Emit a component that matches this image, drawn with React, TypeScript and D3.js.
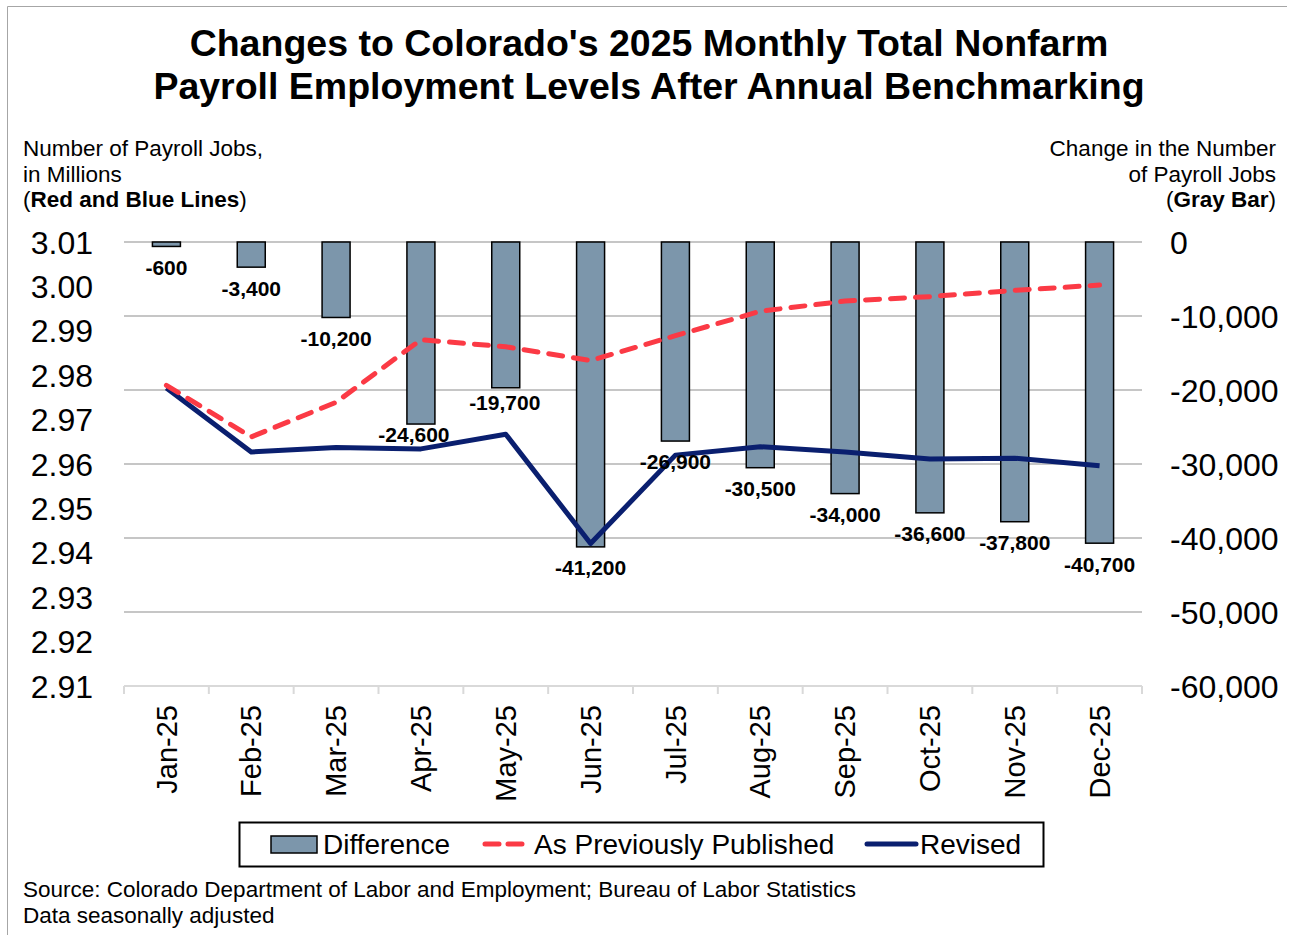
import * as d3 from "d3";

// monthly categories
const months = [
  "Jan-25", "Feb-25", "Mar-25", "Apr-25", "May-25", "Jun-25",
  "Jul-25", "Aug-25", "Sep-25", "Oct-25", "Nov-25", "Dec-25",
];

// change in number of payroll jobs (gray bars, right axis)
const difference = [
  -600, -3400, -10200, -24600, -19700, -41200,
  -26900, -30500, -34000, -36600, -37800, -40700,
];

// millions of jobs (left axis)
const previouslyPublished = [
  2.9777, 2.9661, 2.9739, 2.988, 2.9864, 2.9833,
  2.9889, 2.9944, 2.9967, 2.9977, 2.9991, 3.0003,
];
const revised = [
  2.9771, 2.9627, 2.9637, 2.9634, 2.9667, 2.9421,
  2.962, 2.9639, 2.9627, 2.9611, 2.9613, 2.9596,
];

const leftTicks = [2.91, 2.92, 2.93, 2.94, 2.95, 2.96, 2.97, 2.98, 2.99, 3.0, 3.01];
const rightTicks = [0, -10000, -20000, -30000, -40000, -50000, -60000];

const FONT = "'Liberation Sans', Arial, Helvetica, sans-serif";
const BAR_FILL = "#7c96ab";
const RED = "#fb3a45";
const NAVY = "#0a1f6f";

// hand placed data labels in the original
const labelNudge: Record<string, [number, number]> = {
  "Apr-25": [-7, -10],
  "May-25": [-1, -6],
};

// plain hyphen instead of d3's unicode minus
const fmt = (v: number) => d3.format(",")(v).replace("\u2212", "-");

export default function App() {
  const width = 1291;
  const height = 935;
  const plot = { left: 124, right: 1142, top: 242, bottom: 686 };

  const x = d3
    .scaleBand<string>()
    .domain(months)
    .range([plot.left, plot.right])
    .paddingInner(0.67)
    .paddingOuter(0.335);

  const yLeft = d3.scaleLinear().domain([2.91, 3.01]).range([plot.bottom, plot.top]);
  const yRight = d3.scaleLinear().domain([-60000, 0]).range([plot.bottom, plot.top]);

  const step = x.step();
  const cx = (m: string) => (x(m) ?? 0) + x.bandwidth() / 2;

  const line = d3
    .line<number>()
    .x((_, i) => cx(months[i]))
    .y((d) => yLeft(d));

  return (
    <svg
      width={width}
      height={height}
      style={{ position: "absolute", left: 0, top: 0, background: "#fff" }}
      fontFamily={FONT}
    >
      {/* cropped frame: only top and left edges show */}
      <path d="M7.5,935 V6.5 H1287" fill="none" stroke="#a6a6a6" />

      {/* title */}
      <g fontWeight="bold" fontSize={37.5} textAnchor="middle" fill="#000">
        <text x={649} y={56}>Changes to Colorado's 2025 Monthly Total Nonfarm</text>
        <text x={649} y={99}>Payroll Employment Levels After Annual Benchmarking</text>
      </g>

      {/* axis titles */}
      <g fontSize={22.5} fill="#000">
        <text x={23} y={156}>Number of Payroll Jobs,</text>
        <text x={23} y={182}>in Millions</text>
        <text x={23} y={207}>
          (<tspan fontWeight="bold">Red and Blue Lines</tspan>)
        </text>
      </g>
      <g fontSize={22.5} fill="#000" textAnchor="end">
        <text x={1276} y={156}>Change in the Number</text>
        <text x={1276} y={182}>of Payroll Jobs</text>
        <text x={1276} y={207}>
          (<tspan fontWeight="bold">Gray Bar</tspan>)
        </text>
      </g>

      {/* gridlines */}
      {rightTicks.slice(0, -1).map((t) => (
        <line
          key={t}
          x1={plot.left}
          x2={plot.right}
          y1={yRight(t)}
          y2={yRight(t)}
          stroke="#b3b3b3"
          strokeWidth={1.3}
        />
      ))}

      {/* bottom axis */}
      <line x1={plot.left} x2={plot.right} y1={plot.bottom} y2={plot.bottom} stroke="#d9d9d9" strokeWidth={2} />
      {d3.range(months.length + 1).map((i) => (
        <line
          key={i}
          x1={plot.left + i * step}
          x2={plot.left + i * step}
          y1={plot.bottom}
          y2={plot.bottom + 8}
          stroke="#d9d9d9"
          strokeWidth={2}
        />
      ))}
      {months.map((m) => (
        <text
          key={m}
          transform={`translate(${cx(m)},705) rotate(-90)`}
          textAnchor="end"
          dy="0.35em"
          fontSize={29}
          fill="#000"
        >
          {m}
        </text>
      ))}

      {/* left ticks */}
      {leftTicks.map((t) => (
        <text key={t} x={93} y={yLeft(t)} dy="0.36em" textAnchor="end" fontSize={32} fill="#000">
          {t.toFixed(2)}
        </text>
      ))}

      {/* right ticks */}
      {rightTicks.map((t) => (
        <text key={t} x={1170} y={yRight(t)} dy="0.36em" fontSize={32} fill="#000">
          {fmt(t)}
        </text>
      ))}

      {/* bars */}
      {difference.map((d, i) => (
        <rect
          key={months[i]}
          x={x(months[i])}
          y={yRight(0)}
          width={x.bandwidth()}
          height={yRight(d) - yRight(0)}
          fill={BAR_FILL}
          stroke="#000"
          strokeWidth={1.5}
        />
      ))}

      {/* lines */}
      <path d={line(revised) ?? ""} fill="none" stroke={NAVY} strokeWidth={5} strokeLinejoin="round" />
      <path
        d={line(previouslyPublished) ?? ""}
        fill="none"
        stroke={RED}
        strokeWidth={5}
        strokeDasharray="14 11"
        strokeLinecap="round"
      />

      {/* data labels */}
      {difference.map((d, i) => {
        const [nx, ny] = labelNudge[months[i]] ?? [0, 0];
        return (
          <text
            key={months[i]}
            x={cx(months[i]) + nx}
            y={yRight(d) + 21 + ny}
            dy="0.35em"
            textAnchor="middle"
            fontSize={21}
            fontWeight="bold"
            fill="#000"
          >
            {fmt(d)}
          </text>
        );
      })}

      {/* legend */}
      <g>
        <rect x={239.5} y={822.5} width={804} height={44} fill="#fff" stroke="#000" strokeWidth={2} />
        <rect x={271} y={836} width={46} height={17} fill={BAR_FILL} stroke="#000" strokeWidth={1.5} />
        <text x={323} y={844} dy="0.35em" fontSize={28} fill="#000">Difference</text>
        <line x1={485} x2={522} y1={844} y2={844} stroke={RED} strokeWidth={5} strokeDasharray="14 9" strokeLinecap="round" />
        <text x={534} y={844} dy="0.35em" fontSize={28} fill="#000">As Previously Published</text>
        <line x1={867} x2={916} y1={844} y2={844} stroke={NAVY} strokeWidth={5} strokeLinecap="round" />
        <text x={920} y={844} dy="0.35em" fontSize={28} fill="#000">Revised</text>
      </g>

      {/* notes */}
      <g fontSize={22.5} fill="#000">
        <text x={23} y={897}>Source: Colorado Department of Labor and Employment; Bureau of Labor Statistics</text>
        <text x={23} y={923}>Data seasonally adjusted</text>
      </g>
    </svg>
  );
}
